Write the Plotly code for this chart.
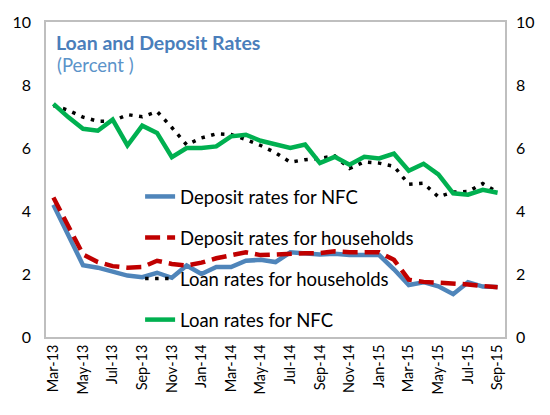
import plotly.graph_objects as go

months = ["Mar-13","Apr-13","May-13","Jun-13","Jul-13","Aug-13","Sep-13","Oct-13","Nov-13","Dec-13",
          "Jan-14","Feb-14","Mar-14","Apr-14","May-14","Jun-14","Jul-14","Aug-14","Sep-14","Oct-14",
          "Nov-14","Dec-14","Jan-15","Feb-15","Mar-15","Apr-15","May-15","Jun-15","Jul-15","Aug-15","Sep-15"]

deposit_nfc = [4.20, 3.25, 2.28, 2.20, 2.06, 1.95, 1.90, 2.04, 1.88, 2.27,
               2.00, 2.22, 2.22, 2.42, 2.45, 2.38, 2.69, 2.66, 2.62, 2.64,
               2.60, 2.60, 2.60, 2.15, 1.65, 1.74, 1.61, 1.36, 1.74, 1.60, 1.59]
deposit_hh = [4.43, 3.50, 2.62, 2.38, 2.25, 2.20, 2.22, 2.42, 2.32, 2.27,
              2.36, 2.50, 2.60, 2.69, 2.60, 2.63, 2.66, 2.66, 2.66, 2.72,
              2.69, 2.69, 2.69, 2.45, 1.82, 1.75, 1.73, 1.70, 1.67, 1.62, 1.58]
loan_hh = [7.35, 7.20, 6.98, 6.85, 6.85, 7.06, 6.99, 7.16, 6.65, 6.10,
           6.32, 6.45, 6.43, 6.27, 6.08, 5.85, 5.55, 5.63, 5.67, 5.75,
           5.35, 5.56, 5.52, 5.42, 4.85, 4.88, 4.45, 4.60, 4.62, 4.87, 4.60]
loan_nfc = [7.40, 6.98, 6.61, 6.55, 6.90, 6.08, 6.71, 6.48, 5.71, 6.00,
            6.00, 6.05, 6.37, 6.42, 6.23, 6.13, 6.00, 6.11, 5.52, 5.72,
            5.47, 5.72, 5.67, 5.82, 5.28, 5.50, 5.16, 4.56, 4.52, 4.67, 4.58]

y_ticks = [0, 2, 4, 6, 8, 10]

FONT = "Lato"
fig = go.Figure()
fig.add_trace(go.Scatter(x=months, y=deposit_nfc, mode="lines", name="Deposit rates for NFC",
                         line=dict(color="#4f85ba", width=4.5), legendgroup="a"))
fig.add_trace(go.Scatter(x=months, y=deposit_hh, mode="lines", name="Deposit rates for households",
                         line=dict(color="#c00000", width=4.5, dash="15px,7px"), legendgroup="b"))
fig.add_trace(go.Scatter(x=months, y=loan_hh, mode="lines", name="Loan rates for households",
                         line=dict(color="#000000", width=3.5, dash="3.5px,6.5px"), legendgroup="c"))
fig.add_trace(go.Scatter(x=months, y=loan_nfc, mode="lines", name="Loan rates for NFC",
                         line=dict(color="#00b050", width=4.5), legendgroup="d"))
# invisible trace to activate right axis
fig.add_trace(go.Scatter(x=months, y=loan_nfc, yaxis="y2", mode="lines", showlegend=False,
                         hoverinfo="skip", line=dict(width=0), opacity=0))

fig.update_layout(
    width=550, height=415,
    margin=dict(l=45, r=45, t=20, b=78),
    paper_bgcolor="white", plot_bgcolor="white",
    font=dict(family=FONT, size=16, color="#000000"),
    showlegend=True,
    legend=dict(x=0.205, y=0.505, xanchor="left", yanchor="top", bgcolor="rgba(0,0,0,0)",
                font=dict(size=18.5, family=FONT), tracegroupgap=14, traceorder="grouped"),
    xaxis=dict(type="category", tickvals=months[::2], tickangle=-90, showgrid=False,
               showline=True, mirror=True, linecolor="#bfbfbf", linewidth=1.5,
               tickfont=dict(size=14.5, family=FONT), range=[-0.5, 30.5], ticks=""),
    yaxis=dict(range=[0, 10], tickvals=y_ticks, showgrid=False, zeroline=False,
               showline=True, mirror=True, linecolor="#bfbfbf", linewidth=1.5,
               tickfont=dict(size=16, family=FONT), ticks="", ticklabelstandoff=10),
    yaxis2=dict(range=[0, 10], tickvals=y_ticks, overlaying="y", side="right",
                showgrid=False, zeroline=False, showline=False,
                tickfont=dict(size=16, family=FONT), ticks="", ticklabelstandoff=10),
    annotations=[
        dict(text="<b>Loan and Deposit Rates</b>", xref="paper", yref="paper", x=0.018, y=0.934,
             xanchor="left", yanchor="middle", showarrow=False,
             font=dict(size=19.5, color="#4a7ebb", family=FONT)),
        dict(text="(Percent )", xref="paper", yref="paper", x=0.02, y=0.862,
             xanchor="left", yanchor="middle", showarrow=False,
             font=dict(size=18.5, color="#5b93c9", family=FONT)),
    ],
)

fig.write_html("out.html")
